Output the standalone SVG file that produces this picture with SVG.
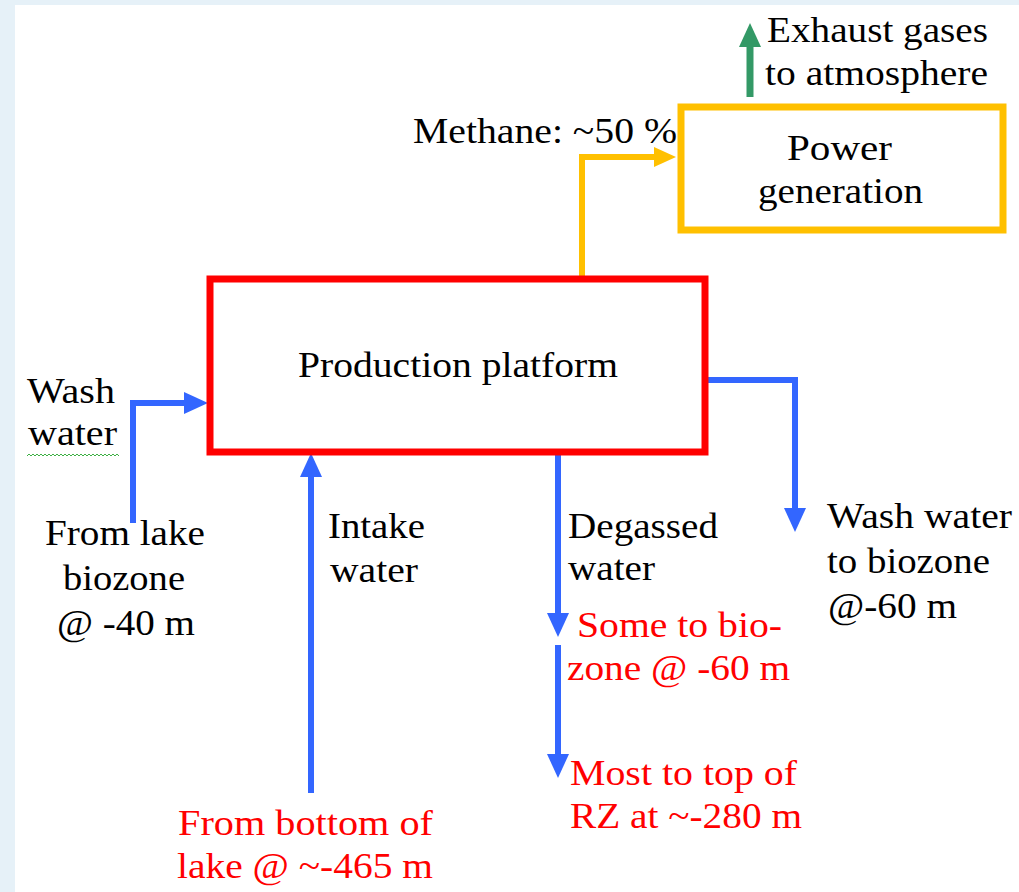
<svg xmlns="http://www.w3.org/2000/svg" width="1019" height="892" viewBox="0 0 1019 892">
<style>
.t{font-family:'Liberation Serif','Times New Roman',Tinos,'Noto Serif','DejaVu Serif','Nimbus Roman','Nimbus Roman No9 L',FreeSerif,Times,serif;font-size:36px;fill:#000}
.r{fill:#FF0000}
.blue{fill:none;stroke:#3366FF;stroke-width:6}
.yel{fill:none;stroke:#FFC000;stroke-width:6}
.grn{fill:none;stroke:#339966;stroke-width:7}
</style>
<defs>
<marker id="ab" markerUnits="userSpaceOnUse" markerWidth="24" markerHeight="22" refX="2" refY="11" orient="auto"><path d="M0,0 L24,11 L0,22 z" fill="#3366FF"/></marker>
<marker id="ay" markerUnits="userSpaceOnUse" markerWidth="24" markerHeight="22" refX="2" refY="11" orient="auto"><path d="M0,1 L22,11 L0,21 z" fill="#FFC000"/></marker>
<marker id="ag" markerUnits="userSpaceOnUse" markerWidth="24" markerHeight="24" refX="2" refY="12" orient="auto"><path d="M0,1 L24,12 L0,23 z" fill="#339966"/></marker>
</defs>
<rect x="0" y="0" width="1019" height="892" fill="#E6F1F8"/>
<rect x="15" y="5" width="1004" height="887" fill="#FFFFFF"/>

<g id="connectors">
<path class="blue" d="M133,523 V403 H186" marker-end="url(#ab)"/>
<path class="blue" d="M311,793 V475" marker-end="url(#ab)"/>
<path class="blue" d="M558,455 V615" marker-end="url(#ab)"/>
<path class="blue" d="M558,645 V756" marker-end="url(#ab)"/>
<path class="blue" d="M708,380 H795 V510" marker-end="url(#ab)"/>
<path class="yel" d="M582,279 V157 H656" marker-end="url(#ay)"/>
<path class="grn" d="M750,97 V45" marker-end="url(#ag)"/>
</g>

<g id="production-platform">
<rect x="210" y="279" width="495" height="173" fill="none" stroke="#FF0000" stroke-width="7"/>
<text class="t" x="298" y="377" textLength="320" lengthAdjust="spacingAndGlyphs">Production platform</text>
</g>

<g id="power-generation">
<rect x="681" y="107" width="322" height="123" fill="none" stroke="#FFC000" stroke-width="7"/>
<text class="t" x="787" y="160" textLength="105" lengthAdjust="spacingAndGlyphs">Power</text>
<text class="t" x="758" y="203" textLength="165" lengthAdjust="spacingAndGlyphs">generation</text>
</g>

<g id="labels">
<text class="t" x="767" y="42" textLength="221" lengthAdjust="spacingAndGlyphs">Exhaust gases</text>
<text class="t" x="765" y="85" textLength="223" lengthAdjust="spacingAndGlyphs">to atmosphere</text>
<text class="t" x="413" y="143" textLength="264" lengthAdjust="spacingAndGlyphs">Methane: ~50 %</text>
<text class="t" x="27" y="403" textLength="88" lengthAdjust="spacingAndGlyphs">Wash</text>
<text class="t" x="28" y="445" textLength="89" lengthAdjust="spacingAndGlyphs">water</text>
<path d="M27,456 l2,-2 l2,2 l2,-2 l2,2 l2,-2 l2,2 l2,-2 l2,2 l2,-2 l2,2 l2,-2 l2,2 l2,-2 l2,2 l2,-2 l2,2 l2,-2 l2,2 l2,-2 l2,2 l2,-2 l2,2 l2,-2 l2,2 l2,-2 l2,2 l2,-2 l2,2 l2,-2 l2,2 l2,-2 l2,2 l2,-2 l2,2 l2,-2 l2,2 l2,-2 l2,2 l2,-2 l2,2 l2,-2 l2,2 l2,-2 l2,2 l2,-2 l2,2" fill="none" stroke="#3CB043" stroke-width="1"/>
<text class="t" x="45" y="545" textLength="160" lengthAdjust="spacingAndGlyphs">From lake</text>
<text class="t" x="63" y="590" textLength="122" lengthAdjust="spacingAndGlyphs">biozone</text>
<text class="t" x="57" y="635" textLength="138" lengthAdjust="spacingAndGlyphs">@ -40 m</text>
<text class="t" x="328" y="538" textLength="97" lengthAdjust="spacingAndGlyphs">Intake</text>
<text class="t" x="330" y="582" textLength="88" lengthAdjust="spacingAndGlyphs">water</text>
<text class="t r" x="178" y="835" textLength="255" lengthAdjust="spacingAndGlyphs">From bottom of</text>
<text class="t r" x="177" y="878" textLength="256" lengthAdjust="spacingAndGlyphs">lake @ ~-465 m</text>
<text class="t" x="568" y="538" textLength="150" lengthAdjust="spacingAndGlyphs">Degassed</text>
<text class="t" x="568" y="580" textLength="87" lengthAdjust="spacingAndGlyphs">water</text>
<text class="t r" x="577" y="637" textLength="205" lengthAdjust="spacingAndGlyphs">Some to bio-</text>
<text class="t r" x="567" y="680" textLength="223" lengthAdjust="spacingAndGlyphs">zone @ -60 m</text>
<text class="t r" x="570" y="785" textLength="227" lengthAdjust="spacingAndGlyphs">Most to top of</text>
<text class="t r" x="570" y="828" textLength="232" lengthAdjust="spacingAndGlyphs">RZ at ~-280 m</text>
<text class="t" x="827" y="528" textLength="185" lengthAdjust="spacingAndGlyphs">Wash water</text>
<text class="t" x="827" y="573" textLength="163" lengthAdjust="spacingAndGlyphs">to biozone</text>
<text class="t" x="828" y="618" textLength="129" lengthAdjust="spacingAndGlyphs">@-60 m</text>
</g>
</svg>
